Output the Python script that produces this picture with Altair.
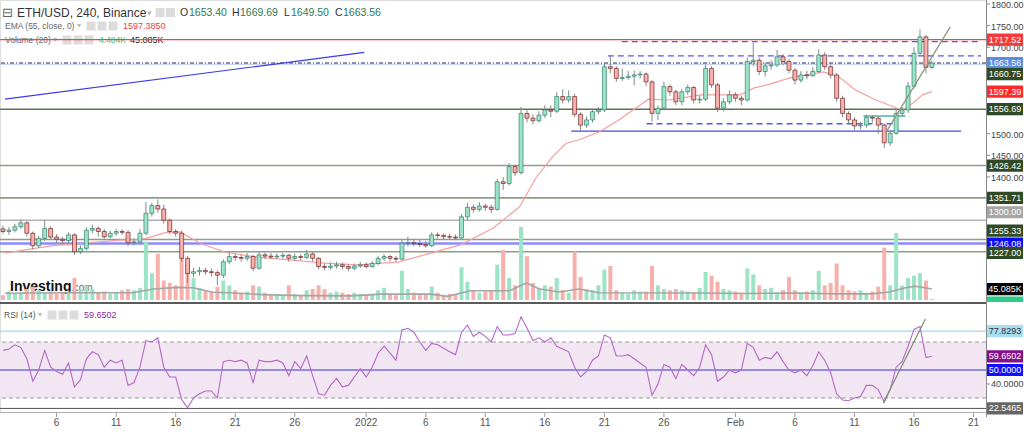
import altair as alt
import numpy as np
import pandas as pd

# ======================= DATA =======================
BAR_START = "2021-12-01T12:00"          # first 12-hour candle (UTC)
FIRST_OPEN = 1280.0

closes = [
    1274,
    1277, 1285, 1294, 1270, 1241, 1258, 1281, 1261, 1256, 1253, 1266, 1227, 1235, 1277, 1281, 1274, 1262, 1270,
    1274, 1272, 1248, 1250, 1270, 1316, 1334, 1326, 1300, 1274, 1270, 1212, 1177, 1181, 1184, 1181, 1179, 1173,
    1204, 1216, 1214, 1212, 1216, 1189, 1220, 1217, 1215, 1217, 1219, 1212, 1216, 1214, 1222, 1212, 1193, 1191,
    1194, 1197, 1193, 1189, 1194, 1197,
    1193, 1200, 1212, 1216, 1212, 1210, 1247, 1248, 1246, 1244, 1241, 1266, 1265, 1262, 1261, 1259, 1308, 1330,
    1325, 1333, 1330, 1325, 1389, 1385, 1424, 1410, 1547, 1536, 1530, 1543, 1555, 1552, 1586, 1578, 1586, 1545,
    1520, 1532, 1551, 1555, 1655, 1651, 1628, 1630, 1633, 1636, 1638, 1620, 1547, 1559, 1609, 1597, 1574, 1597,
    1607, 1578, 1580, 1651, 1613, 1559, 1574, 1590,
    1582, 1578, 1667, 1670, 1644, 1657, 1659, 1678, 1667, 1647, 1624, 1636, 1634, 1644, 1682, 1655, 1636, 1582,
    1547, 1532, 1518, 1520, 1538, 1536, 1520, 1479, 1501, 1547, 1555, 1610, 1686, 1724, 1653.40, 1663.56,
]
highs = [
    1288,
    1284, 1292, 1302, 1298, 1274, 1264, 1300, 1286, 1268, 1262, 1272, 1270, 1242, 1284, 1290, 1286, 1280, 1276,
    1280, 1279, 1277, 1258, 1280, 1342, 1340, 1348, 1336, 1304, 1280, 1276, 1218, 1190, 1192, 1190, 1188, 1184,
    1210, 1226, 1222, 1220, 1224, 1220, 1227, 1225, 1224, 1223, 1224, 1222, 1223, 1222, 1232, 1226, 1215, 1200,
    1202, 1204, 1202, 1198, 1200, 1204,
    1202, 1206, 1218, 1222, 1220, 1218, 1254, 1262, 1256, 1254, 1252, 1272, 1272, 1270, 1268, 1267, 1314, 1340,
    1336, 1342, 1338, 1336, 1396, 1400, 1432, 1428, 1562, 1556, 1545, 1552, 1566, 1566, 1596, 1603, 1600, 1592,
    1550, 1540, 1558, 1562, 1664, 1680, 1656, 1650, 1645, 1646, 1645, 1642, 1624, 1566, 1620, 1614, 1602, 1604,
    1614, 1610, 1588, 1660, 1656, 1618, 1582, 1600,
    1596, 1588, 1676, 1710, 1676, 1664, 1670, 1694, 1684, 1672, 1652, 1645, 1646, 1654, 1696, 1688, 1660, 1640,
    1588, 1552, 1538, 1528, 1544, 1542, 1540, 1524, 1508, 1556, 1562, 1620, 1700, 1741, 1728, 1669.69,
]
lows = [
    1268,
    1266, 1272, 1280, 1262, 1232, 1236, 1252, 1254, 1248, 1244, 1246, 1220, 1222, 1230, 1270, 1262, 1256, 1258,
    1264, 1266, 1240, 1242, 1246, 1266, 1308, 1318, 1292, 1268, 1262, 1204, 1155, 1168, 1172, 1174, 1170, 1150,
    1166, 1198, 1206, 1204, 1206, 1182, 1186, 1210, 1210, 1210, 1211, 1204, 1206, 1207, 1210, 1205, 1186, 1184,
    1186, 1188, 1186, 1182, 1184, 1190,
    1188, 1190, 1196, 1206, 1205, 1204, 1208, 1240, 1240, 1238, 1236, 1238, 1258, 1256, 1255, 1254, 1256, 1300,
    1318, 1320, 1322, 1316, 1322, 1370, 1380, 1402, 1406, 1526, 1522, 1526, 1536, 1538, 1548, 1570, 1572, 1538,
    1505, 1514, 1526, 1545, 1550, 1640, 1620, 1622, 1625, 1612, 1628, 1610, 1528, 1532, 1555, 1588, 1566, 1566,
    1590, 1570, 1570, 1575, 1606, 1550, 1552, 1568,
    1574, 1566, 1575, 1656, 1636, 1632, 1648, 1654, 1658, 1640, 1614, 1618, 1626, 1632, 1640, 1648, 1628, 1574,
    1538, 1524, 1508, 1510, 1514, 1526, 1500, 1467, 1472, 1498, 1540, 1548, 1604, 1680, 1640, 1649.50,
]
volumes_k = [
    20,
    35, 25, 30, 45, 55, 40, 30, 35, 25, 30, 35, 90, 40, 60, 45, 30, 35, 25,
    30, 40, 45, 40, 50, 240, 110, 190, 80, 70, 60, 180, 145, 90, 50, 40, 35, 55,
    80, 60, 40, 30, 35, 60, 55, 30, 25, 20, 20, 60, 25, 20, 40, 45, 60, 45,
    30, 35, 30, 25, 30, 25,
    20, 25, 40, 50, 25, 20, 120, 45, 30, 20, 25, 55, 30, 20, 25, 20, 135, 75,
    40, 30, 35, 40, 145, 205, 90, 60, 300, 180, 70, 50, 60, 55, 90, 40, 30, 200,
    95, 45, 40, 60, 125, 140, 40, 30, 25, 40, 35, 35, 140, 60, 45, 40, 45, 40,
    35, 30, 50, 115, 100, 75, 45, 40,
    35, 30, 130, 105, 60, 45, 50, 30, 40, 95, 40, 30, 35, 40, 120, 60, 70, 150,
    60, 40, 35, 40, 30, 35, 55, 215, 60, 275, 60, 90, 100, 110, 80, 4.484,
]
rsi14 = [
    64,
    65, 68, 66, 58, 42, 50, 64, 52, 49, 47, 55, 38, 43, 58, 63, 61, 52, 57,
    55, 57, 39, 41, 52, 71, 70, 73, 52, 45, 45, 29, 23, 30, 33, 35, 35, 30,
    56, 57, 56, 57, 55, 41, 57, 56, 56, 57, 55, 46, 56, 51, 60, 46, 33, 32,
    39, 44, 38, 39, 45, 51,
    45, 52, 62, 67, 62, 57, 78.6, 79.8, 77, 70, 64, 69, 68, 65.5, 63, 61, 77, 82,
    74, 77, 74, 70, 81, 75, 75, 76, 88, 80, 71, 73, 70, 73, 67, 65, 63, 52,
    45, 49, 57, 60, 75, 73, 60, 60, 61, 58, 55, 52, 32, 40, 54, 52, 44, 54,
    50, 46, 52, 68, 61, 42, 45, 50,
    48, 50, 69, 66, 57, 59, 58, 63, 56, 50, 48, 50, 46, 53, 63, 57, 48, 33,
    28.6, 28, 30, 31, 39, 39, 36, 27, 36, 52, 56, 67, 79, 81, 59, 59.6502,
]

ema_times = [
    "2021-12-01T16:00", "2021-12-03T22:00", "2021-12-05T20:00", "2021-12-07T06:00", "2021-12-08T14:00",
    "2021-12-11T09:00", "2021-12-12T17:00", "2021-12-13T13:00", "2021-12-15T05:00", "2021-12-16T09:00",
    "2021-12-17T11:00", "2021-12-18T07:00", "2021-12-20T05:00", "2021-12-23T01:00", "2021-12-25T18:00",
    "2021-12-28T12:00", "2021-12-31T08:00", "2022-01-02T06:00", "2022-01-03T16:00", "2022-01-06T10:00",
    "2022-01-08T22:00", "2022-01-11T16:00", "2022-01-13T21:00", "2022-01-15T07:00", "2022-01-16T15:00",
    "2022-01-17T19:00", "2022-01-18T21:00", "2022-01-20T13:00", "2022-01-22T05:00", "2022-01-24T17:00",
    "2022-01-26T09:00", "2022-01-29T02:00", "2022-01-30T12:00", "2022-02-01T10:00", "2022-02-02T14:00",
    "2022-02-03T16:00", "2022-02-05T14:00", "2022-02-08T10:00", "2022-02-09T17:00", "2022-02-11T02:00",
    "2022-02-12T19:00", "2022-02-14T12:00", "2022-02-15T01:00", "2022-02-15T22:00", "2022-02-16T17:00",
    "2022-02-17T12:00",
]
ema55 = [
    1224, 1234, 1242, 1244, 1248, 1254, 1255, 1258, 1272, 1273,
    1256, 1244, 1226, 1214, 1208, 1201, 1197, 1201, 1203, 1224,
    1243, 1282, 1331, 1400, 1446, 1478, 1486, 1504, 1532, 1580,
    1578, 1590, 1590, 1590, 1606, 1613, 1629, 1643, 1631, 1601,
    1578, 1560, 1555, 1571, 1590, 1597.39,
]

vol_ma_times = [
    "2021-12-01T16:00", "2021-12-06T16:00", "2021-12-12T11:00", "2021-12-14T03:00", "2021-12-16T05:00",
    "2021-12-17T11:00", "2021-12-19T03:00", "2021-12-20T09:00", "2021-12-23T07:00", "2021-12-26T14:00",
    "2021-12-30T18:00", "2022-01-02T06:00", "2022-01-06T10:00", "2022-01-07T20:00", "2022-01-09T18:00",
    "2022-01-13T01:00", "2022-01-14T11:00", "2022-01-15T13:00", "2022-01-17T05:00", "2022-01-18T21:00",
    "2022-01-20T13:00", "2022-01-28T20:00", "2022-02-02T00:00", "2022-02-06T04:00", "2022-02-09T12:00",
    "2022-02-12T10:00", "2022-02-13T22:00", "2022-02-15T07:00", "2022-02-16T02:00", "2022-02-17T12:00",
]
vol_ma = [28, 30, 30, 45, 52, 50, 32, 30, 22, 18, 17, 24, 24, 15, 38, 38, 70, 45, 33, 45,
          30, 29, 27, 29, 25, 25, 33, 50, 57, 45.085]

# horizontal price levels
level_red = [1717.52]
level_last = [1663.56]
level_aux = [1660.75]
level_main = [1556.69]
level_olive = [1426.42, 1351.71, 1255.33, 1227.00]
level_gray = [1300.00]
level_blue = [1246.08]

# drawn segments: (start, end, price)
seg_blue_solid = [("2022-01-18T05:00", "2022-02-19T23:00", 1506)]
seg_blue_dash = [("2022-01-22T11:00", "2022-02-21T15:00", 1713),
                 ("2022-01-21T07:00", "2022-02-21T15:00", 1680),
                 ("2022-01-24T13:00", "2022-02-14T06:00", 1523)]
seg_teal = [("2022-02-11T18:00", "2022-02-15T07:00", 1541)]
# diagonal lines: (t0, v0, t1, v1)
diag_blue = [("2021-12-01T16:00", 1580, "2021-12-31T20:00", 1688)]
trend_price = [("2022-02-13T15:00", 1502, "2022-02-19T01:00", 1747)]
trend_rsi = [("2022-02-13T10:00", 26.4, "2022-02-16T23:00", 86.4)]

rsi_band = [70, 30]
rsi_mid = [50]
rsi_hi = [77.8293]
rsi_lo = [22.5465]

price_ticks = [1800, 1750, 1700, 1500, 1450, 1400]
rsi_ticks = [40]
price_tags = ["1717.52", "1663.56", "1660.75", "1597.39", "1556.69", "1426.42",
              "1351.71", "1300.00", "1255.33", "1246.08", "1227.00"]
rsi_tags = ["77.8293", "59.6502", "50.0000", "22.5465"]
vol_tag_value = 45.085

x_tick_dates = ["2021-12-06", "2021-12-11", "2021-12-16", "2021-12-21", "2021-12-26", "2022-01-01",
                "2022-01-06", "2022-01-11", "2022-01-16", "2022-01-21", "2022-01-26", "2022-02-01",
                "2022-02-06", "2022-02-11", "2022-02-16", "2022-02-21"]
x_tick_text = ["6", "11", "16", "21", "26", "2022", "6", "11", "16", "21", "26", "Feb",
               "6", "11", "16", "21"]

X_DOMAIN = ["2021-12-01T16:00", "2022-02-21T15:00"]

# ======================= STYLE / LAYOUT =======================
W, H = 986, 412
FONT = "Liberation Sans, Arial, sans-serif"
UP, DOWN = "#26a08e", "#a31818"
UP_EDGE, DOWN_EDGE = "#1c6e62", "#5e0c0c"
WICK = "#7f8c88"
VOL_UP, VOL_DOWN = "#9de3c6", "#f6b1ac"
GREEN_TAG = "#2f4a24"
TAG_STYLE = {  # bg, fg, vertical nudge (px)
    "1717.52": ("#f23a3a", "white", 0), "1663.56": ("#5b8de2", "white", 0),
    "1660.75": (GREEN_TAG, "white", 10), "1597.39": ("#ff2b2b", "white", 0),
    "1556.69": (GREEN_TAG, "white", 0), "1426.42": (GREEN_TAG, "white", 0),
    "1351.71": (GREEN_TAG, "white", 0), "1300.00": ("#a6a6a6", "white", -8),
    "1255.33": (GREEN_TAG, "white", -9), "1246.08": ("#0a0aff", "white", 0),
    "1227.00": (GREEN_TAG, "white", 1),
    "77.8293": ("#a9dcee", "#333333", 0), "59.6502": ("#85108a", "white", 0),
    "50.0000": ("#1010ff", "white", 0), "22.5465": ("#666666", "white", 0),
}


def ms(s):
    return int(pd.Timestamp(s).value // 1_000_000)


XS = alt.Scale(type="utc", domain=[ms(X_DOMAIN[0]), ms(X_DOMAIN[1])], nice=False)
PS = alt.Scale(domain=[1115.6, 1809.25], range=[300, 0], nice=False, zero=False)
VS = alt.Scale(domain=[0, 308], range=[300, 225], nice=False, zero=False)
RS = alt.Scale(domain=[20, 96.43], range=[412, 305], nice=False, zero=False)

ONE = pd.DataFrame({"k": [0]})


def X(f="t"):
    return alt.X(f"{f}:T", scale=XS, axis=None)


def Yq(f, sc):
    return alt.Y(f"{f}:Q", scale=sc, axis=None)


# ---- tables ----
t0 = ms(BAR_START)
times = [t0 + i * 12 * 3600 * 1000 for i in range(len(closes))]
opens = [FIRST_OPEN] + closes[:-1]
cd = pd.DataFrame({"t": times, "o": opens, "h": highs, "l": lows, "c": closes,
                   "v": volumes_k, "rsi": rsi14})
cd["dir"] = np.where(cd["c"] >= cd["o"], "up", "down")

ema_df = pd.DataFrame({"t": [ms(s) for s in ema_times], "v": ema55})
vma_df = pd.DataFrame({"t": [ms(s) for s in vol_ma_times], "v": vol_ma})


def seg_df(rows):
    return pd.DataFrame({"t0": [ms(r[0]) for r in rows], "t1": [ms(r[1]) for r in rows],
                         "p": [r[2] for r in rows]})


def diag_df(rows):
    return pd.DataFrame({"t0": [ms(r[0]) for r in rows], "v0": [r[1] for r in rows],
                         "t1": [ms(r[2]) for r in rows], "v1": [r[3] for r in rows]})


def hlines(vals, sc, **kw):
    return alt.Chart(pd.DataFrame({"p": vals})).mark_rule(**kw).encode(y=Yq("p", sc))


def ptext(txt, x, y, size=10, color="#444", weight="normal", font=FONT, baseline="middle"):
    return alt.Chart(ONE).mark_text(text=txt, align="left", baseline=baseline, fontSize=size,
                                    color=color, fontWeight=weight, font=font).encode(
        x=alt.value(x), y=alt.value(y))


def icon(x, y):
    return alt.Chart(ONE).mark_point(shape="square", size=81, filled=True, color="#dcdcdc",
                                      opacity=1).encode(x=alt.value(x), y=alt.value(y))


BOX = "M-1,-0.34L1,-0.34L1,0.34L-1,0.34Z"


def tag(value, text, sc, bg, fg, nudge=0):
    d = pd.DataFrame({"v": [value], "s": [text]})
    base = alt.Chart(d).encode(x=alt.value(1005), y=Yq("v", sc))
    box = base.mark_point(shape=BOX, size=36 * 36, filled=True, color=bg, opacity=1,
                          strokeWidth=0, yOffset=nudge)
    txt = base.mark_text(fontSize=9, color=fg, font=FONT, align="center",
                         baseline="middle", yOffset=nudge).encode(text="s:N")
    return [box, txt]


layers = []

# ---- header texts ----
layers += [
    ptext("\u229f", 2, 12.5, size=13, color="#666", font="DejaVu Sans"),
    ptext("ETH/USD, 240, Binance", 17, 13, size=12, color="#333"),
    ptext("\u25be", 147, 13, size=9, color="#bbbbbb", font="DejaVu Sans"),
    icon(160, 12.5), icon(170.5, 12.5),
]
ohlc = [("O", 180, "#333"), ("1653.40", 189, "#2b7a55"), ("H", 232, "#333"), ("1669.69", 240, "#2b7a55"),
        ("L", 284, "#333"), ("1649.50", 291, "#2b7a55"), ("C", 335, "#333"), ("1663.56", 343, "#2b7a55")]
layers += [ptext(s, x, 13, size=10.5, color=c) for s, x, c in ohlc]
layers += [
    ptext("EMA (55, close, 0)", 5, 26, size=8.5, color="#666"),
    ptext("\u25be", 77, 26, size=8, color="#bbbbbb", font="DejaVu Sans"),
    icon(91, 26), icon(102, 26), icon(113, 26),
    ptext("1597.3850", 123, 26, size=9, color="#f23a3a"),
    ptext("Volume (20)", 5, 40, size=8.5, color="#666"),
    ptext("\u25be", 53, 40, size=8, color="#bbbbbb", font="DejaVu Sans"),
    icon(67, 40), icon(78, 40), icon(89, 40),
    ptext("4.484K", 99, 40, size=8.5, color="#2ecc8a"),
    ptext("45.085K", 130, 40, size=9, color="#222"),
    ptext("RSI (14)", 4, 315, size=8.5, color="#555"),
    ptext("\u25be", 38, 315, size=8, color="#bbbbbb", font="DejaVu Sans"),
    icon(52, 315), icon(63, 315), icon(74, 315),
    ptext("59.6502", 84, 315, size=9, color="#8e24aa"),
    ptext("Investing", 10, 291, size=14, color="#111", weight="bold", baseline="alphabetic"),
    ptext(".com", 71, 291, size=10, color="#666", baseline="alphabetic"),
]

# ---- RSI panel background elements ----
layers.append(alt.Chart(pd.DataFrame({"a": [rsi_band[0]], "b": [rsi_band[1]]})).mark_rect(
    color="#f2e6f2").encode(x=alt.value(0), x2=alt.value(W), y=Yq("a", RS), y2="b"))
layers.append(hlines(rsi_band, RS, color="#9a9a9a", strokeDash=[4, 3], strokeWidth=1))
layers.append(hlines(rsi_mid, RS, color="#3535d0", strokeWidth=1))
layers.append(hlines(rsi_hi, RS, color="#a6d8ea", strokeWidth=1.2))
layers.append(hlines(rsi_lo, RS, color="#555555", strokeWidth=1))

# ---- price levels ----
layers.append(hlines(level_olive, PS, color="#8e9d86", strokeWidth=1.6))
layers.append(hlines(level_gray, PS, color="#b3b3b3", strokeWidth=1.6))
layers.append(hlines(level_blue, PS, color="#8a8aff", strokeWidth=2.6))
layers.append(hlines(level_main, PS, color="#5f7352", strokeWidth=1.3))
layers.append(hlines(level_aux, PS, color="#b9c8ea", strokeWidth=1.2))
layers.append(hlines(level_red, PS, color="#e84a4a", strokeWidth=1.1))
layers.append(hlines(level_last, PS, color="#1f2a60", strokeWidth=1, strokeDash=[4, 2, 1, 2]))

# ---- volume ----
vol_color = alt.Color("dir:N", scale=alt.Scale(domain=["up", "down"], range=[VOL_UP, VOL_DOWN]), legend=None)
layers.append(alt.Chart(cd).mark_bar(size=4, clip=True).encode(x=X(), y=Yq("v", VS), color=vol_color))
layers.append(alt.Chart(vma_df).mark_line(color="#a5a5a5", strokeWidth=1.6, clip=True).encode(
    x=X(), y=Yq("v", VS)))


# ---- drawn segments ----
def segs(rows, **kw):
    return alt.Chart(seg_df(rows)).mark_rule(clip=True, **kw).encode(
        x=X("t0"), x2="t1", y=Yq("p", PS))


layers.append(segs(seg_blue_solid, color="#4646f0", strokeWidth=1.2))
layers.append(segs(seg_blue_dash, color="#5555ff", strokeWidth=1.4, strokeDash=[6, 4]))
layers.append(segs(seg_teal, color="#4fb5a0", strokeWidth=1.3))
layers.append(alt.Chart(diag_df(diag_blue)).mark_rule(color="#3b3bea", strokeWidth=1.2, clip=True).encode(
    x=X("t0"), x2="t1", y=Yq("v0", PS), y2="v1"))

# ---- EMA ----
layers.append(alt.Chart(ema_df).mark_line(color="#f4a0a0", strokeWidth=1.2, clip=True).encode(
    x=X(), y=Yq("v", PS)))

# ---- candles ----
layers.append(alt.Chart(cd).mark_rule(color=WICK, strokeWidth=1, clip=True).encode(
    x=X(), y=Yq("l", PS), y2="h"))
layers.append(alt.Chart(cd).mark_bar(size=4, strokeWidth=0.6, clip=True).encode(
    x=X(), y=Yq("o", PS), y2="c",
    color=alt.Color("dir:N", scale=alt.Scale(domain=["up", "down"], range=[UP, DOWN]), legend=None),
    stroke=alt.Stroke("dir:N", scale=alt.Scale(domain=["up", "down"], range=[UP_EDGE, DOWN_EDGE]),
                      legend=None)))

# ---- trend lines ----
layers.append(alt.Chart(diag_df(trend_price)).mark_rule(color="#8b9a7c", strokeWidth=1.3, clip=True).encode(
    x=X("t0"), x2="t1", y=Yq("v0", PS), y2="v1"))

# ---- RSI line ----
layers.append(alt.Chart(cd).mark_line(color="#b667c9", strokeWidth=1.1, clip=True).encode(
    x=X(), y=Yq("rsi", RS)))
layers.append(alt.Chart(diag_df(trend_rsi)).mark_rule(color="#7d8d6e", strokeWidth=1.2, clip=True).encode(
    x=X("t0"), x2="t1", y=Yq("v0", RS), y2="v1"))

# ---- frame lines ----
layers.append(alt.Chart(ONE).mark_rule(color="#5a5a5a", strokeWidth=2.2).encode(
    x=alt.value(0), x2=alt.value(W), y=alt.value(303)))
layers.append(alt.Chart(ONE).mark_rule(color="#b0b0b0", strokeWidth=1).encode(
    x=alt.value(0), x2=alt.value(W), y=alt.value(412.5)))
layers.append(alt.Chart(ONE).mark_rule(color="#8a8a8a", strokeWidth=1).encode(
    x=alt.value(986.5), y=alt.value(0), y2=alt.value(417)))

# ---- right-hand axis ticks and labels ----
pt = pd.DataFrame({"p": price_ticks, "s": [f"{v:.2f}" for v in price_ticks]})
layers.append(alt.Chart(pt).mark_rule(color="#8a8a8a").encode(
    x=alt.value(987), x2=alt.value(990), y=Yq("p", PS)))
layers.append(alt.Chart(pt).mark_text(align="left", baseline="middle", fontSize=9, color="#444",
                                      font=FONT, yOffset=1).encode(x=alt.value(991), y=Yq("p", PS), text="s:N"))
rt = pd.DataFrame({"p": rsi_ticks, "s": [f"{v:.4f}" for v in rsi_ticks]})
layers.append(alt.Chart(rt).mark_rule(color="#8a8a8a").encode(
    x=alt.value(987), x2=alt.value(990), y=Yq("p", RS)))
layers.append(alt.Chart(rt).mark_text(align="left", baseline="middle", fontSize=9, color="#444",
                                      font=FONT).encode(x=alt.value(991), y=Yq("p", RS), text="s:N"))

# ---- value tags ----
for s in price_tags:
    bg, fg, nd = TAG_STYLE[s]
    layers += tag(float(s), s, PS, bg, fg, nd)
layers += tag(vol_tag_value, "45.085K", VS, "#000000", "white", 0)
layers.append(alt.Chart(ONE).mark_rect(color="#2ecc8a").encode(
    x=alt.value(987), x2=alt.value(1023), y=alt.value(296.5), y2=alt.value(302)))
for s in rsi_tags:
    bg, fg, nd = TAG_STYLE[s]
    layers += tag(float(s), s, RS, bg, fg, nd)

# ---- bottom date axis ----
xt = pd.DataFrame({"t": [ms(d) for d in x_tick_dates], "s": x_tick_text})
layers.append(alt.Chart(xt).mark_rule(color="#9a9a9a").encode(x=X(), y=alt.value(413), y2=alt.value(417)))
layers.append(alt.Chart(xt).mark_text(baseline="middle", align="center", fontSize=10, color="#555",
                                      font=FONT).encode(x=X(), y=alt.value(423), text="s:N"))

chart = alt.layer(*layers).resolve_scale(y="independent").properties(
    width=W, height=H,
    autosize=alt.AutoSizeParams(type="none"),
    padding={"left": 0, "top": 0, "right": 38, "bottom": 20},
).configure_view(strokeWidth=0).configure(background="white")

chart.save("out.html", embed_options={"renderer": "svg", "actions": False})
